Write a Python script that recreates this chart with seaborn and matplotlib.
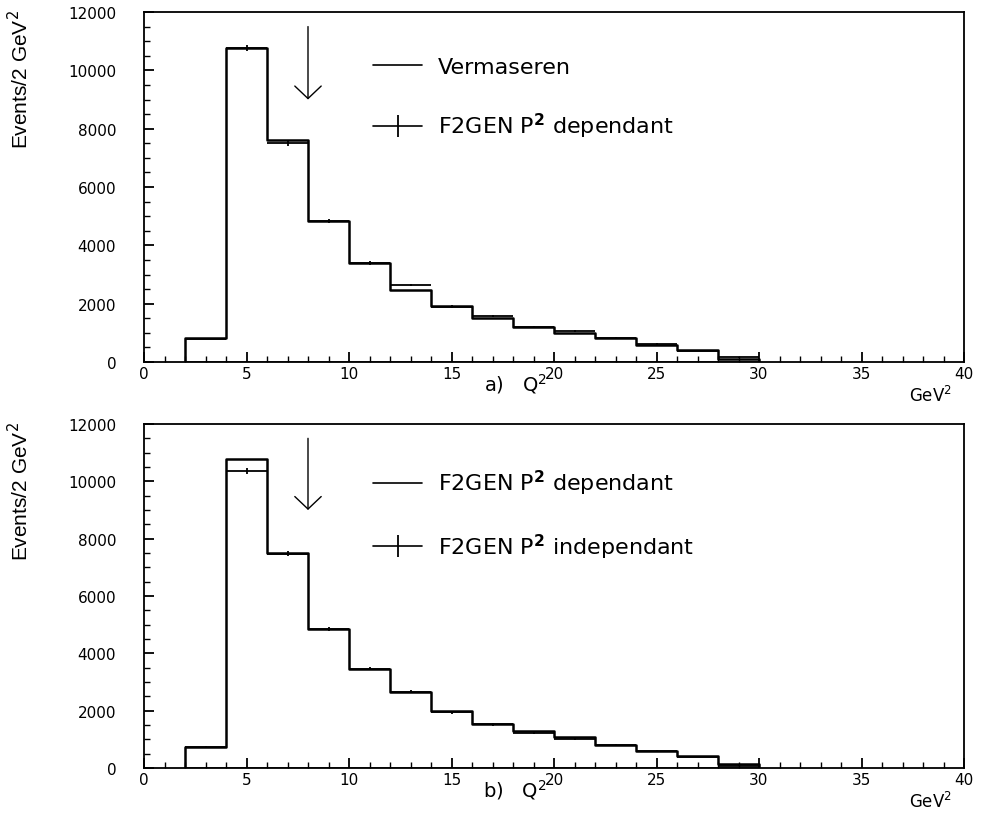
import numpy as np
import pandas as pd
import matplotlib
matplotlib.use("Agg")
import matplotlib.pyplot as plt
import seaborn as sns
from matplotlib.lines import Line2D

# ---------------- data ----------------
bin_edges = [2, 4, 6, 8, 10, 12, 14, 16, 18, 20, 22, 24, 26, 28, 30]
bin_centers = [3, 5, 7, 9, 11, 13, 15, 17, 19, 21, 23, 25, 27, 29]

# panel a)
a_vermaseren = [820, 10750, 7600, 4830, 3400, 2470, 1920, 1510, 1200, 990, 830, 600, 400, 120]
a_f2gen_dep = [800, 10750, 7500, 4830, 3400, 2640, 1900, 1570, 1210, 1050, 840, 610, 390, 160]
a_f2gen_dep_err = [28, 104, 87, 70, 58, 51, 44, 40, 35, 32, 29, 25, 20, 13]

# panel b)
b_f2gen_dep = [720, 10780, 7490, 4840, 3450, 2660, 1990, 1520, 1280, 1090, 800, 580, 410, 140]
b_f2gen_indep = [740, 10350, 7480, 4840, 3470, 2660, 1940, 1520, 1210, 1010, 810, 590, 400, 80]
b_f2gen_indep_err = [27, 102, 86, 70, 59, 52, 44, 39, 35, 32, 28, 24, 20, 9]

arrow_x = 8
y_ticks = [0, 2000, 4000, 6000, 8000, 10000, 12000]
x_ticks = [0, 5, 10, 15, 20, 25, 30, 35, 40]

panels = [
    dict(line=a_vermaseren, pts=a_f2gen_dep, err=a_f2gen_dep_err,
         line_label="Vermaseren", pts_label="F2GEN P$^{\\mathbf{2}}$ dependant", tag="a)   Q$^2$"),
    dict(line=b_f2gen_dep, pts=b_f2gen_indep, err=b_f2gen_indep_err,
         line_label="F2GEN P$^{\\mathbf{2}}$ dependant", pts_label="F2GEN P$^{\\mathbf{2}}$ independant", tag="b)   Q$^2$"),
]

# ---------------- style ----------------
sns.set_style("white")
plt.rcParams["font.family"] = ["DejaVu Sans"]
plt.rcParams["mathtext.fontset"] = "dejavusans"
plt.rcParams["text.color"] = "black"
plt.rcParams["axes.labelcolor"] = "black"
plt.rcParams["xtick.color"] = "black"
plt.rcParams["ytick.color"] = "black"

W, H = 984, 828
fig = plt.figure(figsize=(W / 100, H / 100), dpi=100)

ax_boxes = [
    (144, 13, 964, 363),
    (144, 425, 964, 769),
]

for (l, t, r, b), p in zip(ax_boxes, panels):
    ax = fig.add_axes([l / W, 1 - b / H, (r - l) / W, (b - t) / H])
    df_line = pd.DataFrame({"q2": bin_centers, "n": p["line"]})
    sns.histplot(data=df_line, x="q2", weights="n", bins=bin_edges, element="step",
                 fill=True, color="black", alpha=1, linewidth=1.8, ax=ax)
    for coll in ax.collections:
        coll.set_facecolor("none")
        coll.set_edgecolor("black")
        coll.set_linewidth(1.8)
    ax.errorbar(bin_centers, p["pts"], xerr=1, yerr=p["err"], fmt="none",
                ecolor="black", elinewidth=1.3, capsize=0)
    ax.set_xlim(0, 40)
    ax.set_ylim(0, 12000)
    ax.set_xticks(x_ticks)
    ax.set_xticks(np.arange(0, 41, 1), minor=True)
    ax.set_yticks(y_ticks)
    ax.set_yticks(np.arange(0, 12001, 500), minor=True)
    ax.tick_params(axis="both", which="both", direction="in", colors="black",
                   labelsize=11, bottom=True, left=True, top=False, right=False)
    ax.tick_params(axis="y", which="major", length=7, width=1.3, pad=20)
    ax.tick_params(axis="y", which="minor", length=4, width=1.0)
    ax.tick_params(axis="x", which="major", length=7, width=1.3, pad=3)
    ax.tick_params(axis="x", which="minor", length=4, width=1.0)
    for s in ax.spines.values():
        s.set_color("black")
        s.set_linewidth(1.3)
        s.set_zorder(5)
    ax.set_xlabel("")
    ax.set_ylabel("")

    # arrow at the cut
    ax.annotate("", xy=(arrow_x, 9000), xytext=(arrow_x, 11500),
                arrowprops=dict(arrowstyle="->,head_length=0.9,head_width=0.95",
                                color="black", lw=1.0, shrinkA=0, shrinkB=0))

    # legend
    handles = [Line2D([], [], color="black", lw=1.2),
               Line2D([], [], color="black", lw=1.2, marker="|", markersize=16,
                      markeredgewidth=1.3)]
    ax.legend(handles, [p["line_label"], p["pts_label"]], loc="upper left",
              bbox_to_anchor=(0.255, 0.93), frameon=False, fontsize=16,
              handlelength=2.2, handletextpad=0.7, labelspacing=1.55,
              labelcolor="black")

    # axis annotations
    fig.text(20 / W, 1 - (t - 3) / H, "Events/2 GeV$^2$", rotation=90, ha="center",
             va="top", fontsize=15, family=["Liberation Sans", "DejaVu Sans"])
    fig.text(515 / W, 1 - (b + 21) / H, p["tag"], ha="center", va="center", fontsize=14)
    fig.text(930 / W, 1 - (b + 33) / H, "GeV$^2$", ha="center", va="center", fontsize=12)

fig.savefig("out.png", dpi=100)
